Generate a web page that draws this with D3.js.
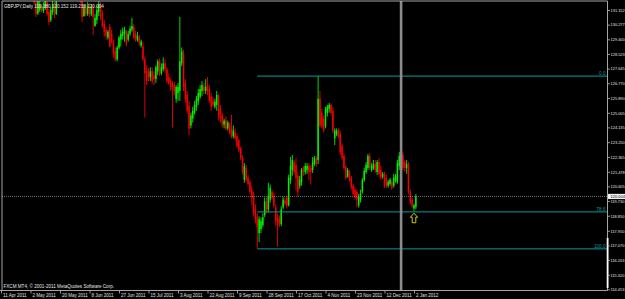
<!DOCTYPE html>
<html><head><meta charset="utf-8">
<script src="https://cdn.jsdelivr.net/npm/d3@7"></script>
<style>
html,body{margin:0;padding:0;background:#000;overflow:hidden}
svg{display:block}
text{font-family:"Liberation Sans",Arial,sans-serif}
</style></head><body>
<svg id="c" width="625" height="299"></svg>
<script>
const symbolTitle = "GBPJPY,Daily";
const lastBarText = ["119.380","120.152","119.238","120.004"];
const copyright = "FXCM MT4, \u00A9 2001-2011 MetaQuotes Software Corp.";
const dateLabels = ["11 Apr 2011","2 May 2011","20 May 2011","8 Jun 2011","27 Jun 2011","15 Jul 2011","3 Aug 2011","22 Aug 2011","9 Sep 2011","28 Sep 2011","17 Oct 2011","4 Nov 2011","23 Nov 2011","12 Dec 2011","2 Jan 2012"];
const barsPerLabel = 16;
const priceLabels = ["131.152","130.277","129.400","128.523","127.645","126.770","125.890","125.005","124.135","123.250","122.365","121.478","120.605","119.730","118.850","117.950","117.070","116.203","115.320","114.453"];

const opens = [
138.60,138.95,138.10,137.50,137.90,136.70,137.00,136.20,136.50,135.70,
135.10,135.60,134.80,134.20,133.70,134.00,133.10,132.60,133.00,
131.55,130.95,131.15,131.38,131.09,131.27,131.62,131.03,130.56,131.03,131.44,
130.91,131.80,132.40,132.90,132.50,133.20,133.70,133.10,132.60,133.00,132.30,132.10,132.70,
131.95,
131.74,130.79,131.27,130.91,131.38,130.91,131.27,130.20,130.56,131.03,131.44,130.91,130.32,
129.97,129.50,130.15,129.73,129.26,128.67,128.20,128.91,129.38,129.61,129.73,129.85,129.38,
129.73,129.97,130.15,129.73,129.38,129.50,129.02,128.97,128.20,127.49,
127.49,127.14,127.49,127.25,127.02,127.49,128.08,127.37,127.61,127.96,
127.61,127.14,126.90,126.78,126.66,125.84,126.19,126.31,127.96,128.55,
126.78,126.07,125.43,124.25,124.66,125.01,125.37,125.72,125.96,126.31,
126.55,126.31,126.66,126.43,125.96,125.72,125.37,125.48,126.02,125.25,
124.84,124.30,124.54,124.07,124.30,124.07,123.60,123.83,123.60,123.36,
122.89,122.30,121.00,121.71,121.12,120.88,120.41,120.06,119.23,118.76,
117.81,118.05,118.29,118.88,119.70,119.23,119.82,120.29,120.06,119.35,
118.76,118.64,118.35,119.35,119.76,119.94,119.47,121.00,121.59,122.06,
121.89,121.24,120.65,120.88,121.71,121.47,121.59,121.83,121.71,121.59,
121.94,122.30,122.18,125.84,125.01,124.66,124.19,125.01,125.25,125.48,
125.13,123.48,123.71,123.95,123.71,123.01,122.42,121.77,121.18,121.47,
121.12,120.65,120.41,120.29,119.47,119.82,120.29,121.00,121.47,121.71,
122.42,121.59,121.71,121.94,121.47,122.06,121.59,121.18,121.35,121.12,
120.65,120.76,120.88,120.65,120.94,120.88,121.83,122.30,122.48,122.06,
121.71,121.94,120.29,119.82,119.29,119.380];

const highs = [
139.35,139.20,138.60,138.20,138.10,137.30,137.40,136.80,136.90,136.10,
135.90,135.80,135.20,134.60,134.40,134.20,133.50,133.30,133.20,
131.90,131.85,131.80,131.50,131.62,131.92,131.80,131.21,131.33,131.74,131.62,
131.90,132.60,133.10,133.20,133.40,134.00,133.90,133.40,133.30,133.20,132.60,132.90,132.80,
132.10,
131.92,131.50,131.44,131.62,131.56,131.50,131.44,130.91,131.44,131.86,131.62,131.15,130.56,
130.15,129.97,130.32,129.97,129.38,128.91,129.02,129.61,129.97,130.09,130.15,129.97,129.91,
130.20,130.68,130.32,129.91,129.85,129.67,129.38,129.26,128.38,127.84,
127.67,127.73,127.73,127.49,127.84,128.20,128.26,127.96,128.32,128.20,
127.73,127.37,127.08,126.90,126.84,126.66,126.78,130.74,128.91,128.79,
127.02,126.31,125.72,125.01,125.37,125.72,126.02,126.43,126.66,126.90,
126.78,127.02,127.14,126.66,126.19,125.96,125.84,126.31,126.13,125.48,
125.01,124.66,124.78,124.54,124.42,124.89,124.25,124.07,123.77,123.48,
123.01,122.48,122.00,121.89,121.30,121.00,120.65,120.29,119.53,118.99,
118.82,118.76,118.99,119.94,119.94,120.82,120.71,120.41,120.23,119.53,
118.99,118.88,119.41,120.00,119.94,120.06,121.30,122.36,122.48,122.18,
122.30,121.47,121.24,121.71,121.83,122.00,122.00,122.00,121.89,122.36,
122.42,122.42,127.20,126.31,125.25,124.84,125.37,125.48,125.60,125.54,
125.37,124.07,124.07,124.07,123.95,123.18,122.59,121.89,121.71,121.59,
121.24,120.76,120.59,120.41,120.17,120.41,121.12,121.71,122.06,122.54,
122.59,122.00,122.18,122.18,122.18,122.30,121.83,121.47,121.47,121.30,
121.00,121.12,121.00,121.35,121.35,122.18,122.65,122.77,122.65,122.18,
122.18,122.06,120.41,119.94,119.58,120.152];

const lows = [
137.90,137.80,137.20,137.10,136.40,136.20,135.90,135.60,135.40,134.80,
134.70,134.50,133.90,133.40,133.20,132.80,132.30,132.20,131.50,
130.74,130.85,131.03,131.03,130.97,131.15,130.79,130.26,130.44,130.85,130.68,
130.85,131.70,132.20,132.30,132.40,133.00,132.90,132.40,132.40,132.10,131.90,131.95,131.85,
131.56,
130.44,130.74,130.79,130.79,130.74,130.79,129.67,130.15,130.32,130.79,130.56,130.09,129.56,
129.38,129.38,128.91,129.14,128.32,128.08,128.08,128.79,128.97,129.38,129.26,128.97,129.26,
129.61,129.85,129.44,129.26,129.26,129.02,128.91,128.08,124.72,126.66,
126.90,126.90,126.72,126.66,126.78,127.25,127.20,127.25,127.49,127.37,
126.78,126.66,126.31,124.13,126.07,125.60,125.72,125.72,127.79,126.31,
125.60,124.95,123.66,124.07,124.42,124.89,125.13,125.48,125.84,126.02,
126.13,126.13,126.07,125.60,125.13,125.37,125.25,125.13,124.54,124.42,
124.13,124.07,123.95,123.95,123.71,123.48,123.48,123.36,122.89,122.65,
122.18,121.30,120.82,120.88,120.65,120.17,119.47,118.82,118.40,116.87,
117.28,117.81,118.17,118.76,118.99,119.05,119.64,119.82,119.35,118.23,
116.99,118.17,118.23,119.23,119.47,119.29,119.41,120.76,121.24,121.30,
120.35,120.00,120.47,120.65,121.24,121.30,121.35,121.00,120.71,121.41,
121.83,121.77,121.94,124.13,124.07,123.83,124.07,124.78,125.01,124.84,
123.77,123.07,123.60,123.48,122.48,122.18,121.59,121.00,121.12,120.88,
120.41,120.06,119.82,119.35,119.35,119.64,120.17,120.88,121.35,121.59,
121.59,121.47,121.59,121.41,121.30,121.18,121.00,121.06,120.53,120.53,
120.53,120.65,120.41,120.53,120.82,120.76,121.59,122.06,121.59,121.47,
121.35,120.17,119.53,119.29,119.11,119.238];

const closes = [
138.95,138.10,137.50,137.90,136.70,137.00,136.20,136.50,135.70,135.10,
135.60,134.80,134.20,133.70,134.00,133.10,132.60,133.00,131.60,
130.91,131.70,131.50,131.15,131.38,131.74,130.91,130.44,131.15,131.50,130.91,
131.80,132.40,132.90,132.50,133.20,133.70,133.10,132.60,133.00,132.30,132.10,132.70,131.95,
131.74,
130.74,131.33,130.91,131.38,130.91,131.33,130.74,130.68,131.15,131.50,130.79,130.20,129.85,
129.61,129.85,128.97,129.26,128.55,128.20,128.91,129.50,129.73,129.85,129.97,129.14,129.73,
130.03,130.20,129.50,129.38,129.61,129.20,129.26,128.20,127.37,126.90,
127.14,127.49,126.90,127.02,127.73,128.08,127.37,127.73,127.96,127.61,
126.90,126.78,126.55,126.43,126.31,126.55,126.55,128.08,128.67,126.55,
125.84,125.13,124.07,124.84,125.13,125.48,125.84,126.19,126.43,126.66,
126.31,126.55,126.31,125.72,125.37,125.48,125.66,126.07,124.89,124.66,
124.30,124.54,124.07,124.42,123.83,123.60,123.95,123.48,123.01,122.77,
122.30,121.47,121.83,121.00,120.76,120.29,119.94,118.99,118.64,118.17,
118.64,118.52,118.76,119.70,119.11,120.06,120.53,119.94,119.47,118.52,
118.29,118.40,119.23,119.82,119.58,119.47,121.12,121.83,122.18,121.47,
121.12,120.29,121.00,121.59,121.47,121.83,121.83,121.47,121.47,122.06,
122.30,121.94,125.84,124.25,124.19,123.95,125.25,125.37,125.48,125.01,
123.95,123.95,123.95,123.60,122.65,122.30,121.71,121.12,121.59,121.00,
120.53,120.17,119.94,119.82,120.00,120.17,121.00,121.53,121.89,122.42,
121.71,121.83,121.94,121.59,122.06,121.35,121.12,121.35,120.65,120.65,
120.88,121.00,120.53,121.12,121.24,122.00,122.42,122.65,121.71,121.71,
121.94,120.29,119.64,119.41,119.47,120.004];

const bidPrice = 120.004;
const fibLevels = [0, 78.6, 100];
const fibLabels = ["0.0","78.6","100.0"];
const fibHighBar = 172, fibLowBar = 139;
const vlineBar = 217;
const arrowBar = 224, arrowPrice = 119.00;

// ---------- layout ----------
const W = 625, H = 299;
const L = 2, T = 1, R = 607.5, B = 290.5;
const svg = d3.select("#c");
svg.append("rect").attr("width",W).attr("height",H).attr("fill","#000");

const lastIdx = (dateLabels.length-1)*barsPerLabel;
const x = d3.scaleLinear().domain([0,lastIdx]).range([1,414]);
const y = d3.scaleLinear().domain([+priceLabels[priceLabels.length-1], +priceLabels[0]]).range([289.3,10]);

svg.append("clipPath").attr("id","plot").append("rect")
  .attr("x",L).attr("y",T).attr("width",R-L).attr("height",B-T);

const plot = svg.append("g").attr("clip-path","url(#plot)");

const UP = "#00f000", DN = "#f00000";
const bars = d3.range(opens.length);
plot.selectAll("line.w").data(bars).join("line")
  .attr("x1",i=>x(i)).attr("x2",i=>x(i))
  .attr("y1",i=>y(highs[i])).attr("y2",i=>y(lows[i]))
  .attr("stroke",i=>closes[i]>=opens[i]?UP:DN).attr("stroke-width",0.9);
plot.selectAll("rect.b").data(bars).join("rect")
  .attr("x",i=>x(i)-0.75).attr("width",1.5)
  .attr("y",i=>Math.min(y(opens[i]),y(closes[i])))
  .attr("height",i=>Math.max(0.7,Math.abs(y(opens[i])-y(closes[i]))))
  .attr("fill",i=>closes[i]>=opens[i]?UP:DN);

// fibonacci lines
const fHi = highs[fibHighBar], fLo = lows[fibLowBar];
const FIB = "#0a9a9a";
fibLevels.forEach((lv,k)=>{
  const p = fHi - lv/100*(fHi-fLo);
  plot.append("line").attr("x1",x(fibLowBar)).attr("x2",R)
    .attr("y1",y(p)).attr("y2",y(p)).attr("stroke",FIB).attr("stroke-width",1);
  plot.append("text").attr("x",R-2).attr("y",y(p)-1.2)
    .attr("text-anchor","end").attr("font-size",4.6).attr("fill",FIB).text(fibLabels[k]);
});

// bid line
plot.append("line").attr("x1",L).attr("x2",R).attr("y1",y(bidPrice)).attr("y2",y(bidPrice))
  .attr("stroke","#8a8a8a").attr("stroke-width",0.8).attr("stroke-dasharray","1,1");

// vertical line
plot.append("line").attr("x1",x(vlineBar)).attr("x2",x(vlineBar)).attr("y1",T).attr("y2",B)
  .attr("stroke","#8c8c8c").attr("stroke-width",2.6);

// arrow
const ax = x(arrowBar), ay = y(arrowPrice);
plot.append("path")
  .attr("d",`M${ax},${ay} L${ax+3.6},${ay+4} L${ax+1.8},${ay+4} L${ax+1.8},${ay+9.5} L${ax-1.8},${ay+9.5} L${ax-1.8},${ay+4} L${ax-3.6},${ay+4} Z`)
  .attr("fill","none").attr("stroke","#e8e000").attr("stroke-width",0.9);

// frame
const FR = "#b8b8b8";
svg.append("path").attr("d",`M${L},${B} L${L},${T} L${R},${T}`).attr("fill","none").attr("stroke",FR).attr("stroke-width",0.9);
svg.append("line").attr("x1",R).attr("x2",R).attr("y1",T).attr("y2",B).attr("stroke",FR).attr("stroke-width",0.9);
svg.append("line").attr("x1",0).attr("x2",R).attr("y1",B).attr("y2",B).attr("stroke",FR).attr("stroke-width",0.9);
svg.append("rect").attr("x",R-0.8).attr("y",238).attr("width",1.8).attr("height",50).attr("fill","#ffffff");

// right axis
const ya = svg.append("g").attr("transform",`translate(${R},0)`)
  .call(d3.axisRight(y).tickValues(priceLabels.map(Number)).tickFormat((d,i)=>priceLabels[i]).tickSize(2.5).tickPadding(0.5));
ya.select(".domain").remove();
ya.selectAll("line").attr("stroke",FR).attr("stroke-width",0.8);
ya.selectAll("text").attr("fill","#e0e0e0").attr("font-size",3.95)
  .attr("font-family","Liberation Sans, Arial, sans-serif");

// bid box
const bb = svg.append("g").attr("transform",`translate(${R+0.5},${y(bidPrice)})`);
bb.append("rect").attr("x",0).attr("y",-2.6).attr("width",17).attr("height",5.2).attr("fill","#f0f0f0");
bb.append("text").attr("x",2.6).attr("y",0).attr("dy","0.35em").attr("font-size",3.95)
  .attr("fill","#000").text(lastBarText[3]);

// bottom axis
const xa = svg.append("g").attr("transform",`translate(0,${B})`)
  .call(d3.axisBottom(x).tickValues(dateLabels.map((d,i)=>i*barsPerLabel)).tickFormat((d,i)=>dateLabels[i]).tickSize(3));
xa.select(".domain").remove();
xa.selectAll("line").attr("stroke",FR).attr("stroke-width",0.8);
xa.selectAll("text").attr("fill","#e0e0e0").attr("font-size",4.5).attr("text-anchor","start")
  .attr("x",1.5).attr("y",6.3).attr("dy",0).attr("font-family","Liberation Sans, Arial, sans-serif");

// header and copyright
svg.append("text").attr("x",4).attr("y",7.6).attr("font-size",4.6).attr("fill","#e6e6e6")
  .text(symbolTitle+" "+lastBarText.join(" "));
svg.append("text").attr("x",3.5).attr("y",288.3).attr("font-size",4.6).attr("fill","#e6e6e6").text(copyright);
</script>
</body></html>
